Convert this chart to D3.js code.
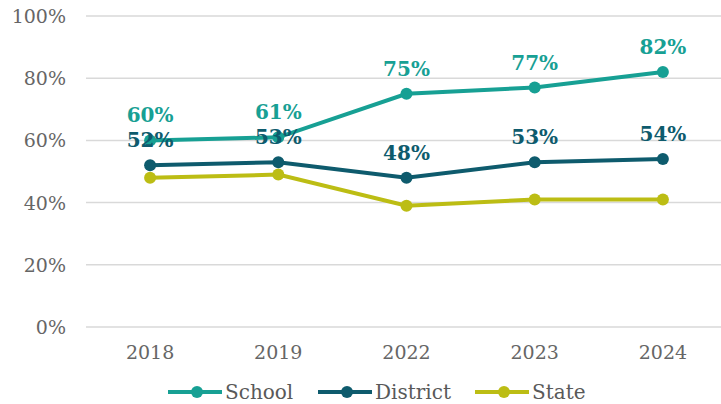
<!DOCTYPE html>
<html>
<head>
<meta charset="utf-8">
<script src="https://cdn.jsdelivr.net/npm/d3@7"></script>
<style>
  body { margin: 0; background: #fff; }
  text { font-family: "DejaVu Serif", Georgia, serif; }
</style>
</head>
<body>
<script>
var years = ["2018", "2019", "2022", "2023", "2024"];
var school = [60, 61, 75, 77, 82];
var district = [52, 53, 48, 53, 54];
var state = [48, 49, 39, 41, 41];
var yTicks = [0, 20, 40, 60, 80, 100];

var series = [
  {name: "School", values: school, color: "#17a094", labels: true},
  {name: "District", values: district, color: "#0e5b6d", labels: true},
  {name: "State", values: state, color: "#bcbd14", labels: false}
];

var width = 721, height = 404;
var svg = d3.select("body").append("svg")
    .attr("width", width).attr("height", height);

// plot area
var x = d3.scaleBand().domain(years).range([86, 727]);
var y = d3.scaleLinear().domain([0, 100]).range([327, 16]);

// grid
svg.append("g").selectAll("line").data(yTicks).join("line")
    .attr("x1", 86).attr("x2", width)
    .attr("y1", d => y(d)).attr("y2", d => y(d))
    .attr("stroke", "#d9d9d9").attr("stroke-width", 1.5);

// y labels
svg.append("g").selectAll("text").data(yTicks).join("text")
    .attr("x", 66).attr("y", d => y(d) + 7)
    .attr("text-anchor", "end")
    .attr("font-size", 19).attr("fill", "#666")
    .text(d => d + "%");

// x labels
svg.append("g").selectAll("text").data(years).join("text")
    .attr("x", d => x(d) + x.bandwidth() / 2).attr("y", 359)
    .attr("text-anchor", "middle")
    .attr("font-size", 19).attr("fill", "#666")
    .text(d => d);

var line = d3.line()
    .x((d, i) => x(years[i]) + x.bandwidth() / 2)
    .y(d => y(d));

series.slice().reverse().forEach(function (s) {
  var g = svg.append("g");
  g.append("path")
      .attr("d", line(s.values))
      .attr("fill", "none").attr("stroke", s.color).attr("stroke-width", 4);
  g.selectAll("circle").data(s.values).join("circle")
      .attr("cx", (d, i) => x(years[i]) + x.bandwidth() / 2)
      .attr("cy", d => y(d))
      .attr("r", 6).attr("fill", s.color);
});

// data labels
series.filter(s => s.labels).forEach(function (s) {
  svg.append("g").selectAll("text").data(s.values).join("text")
      .attr("x", (d, i) => x(years[i]) + x.bandwidth() / 2)
      .attr("y", d => y(d) - 18)
      .attr("text-anchor", "middle")
      .attr("font-size", 20).attr("font-weight", "bold")
      .attr("fill", s.color)
      .text(d => d + "%");
});

// legend
var legX = [168, 318, 475];
var leg = svg.append("g").selectAll("g").data(series).join("g")
    .attr("transform", (d, i) => "translate(" + legX[i] + ",392)");
leg.append("line").attr("x1", 0).attr("x2", 54)
    .attr("stroke", d => d.color).attr("stroke-width", 4);
leg.append("circle").attr("cx", 29).attr("r", 6).attr("fill", d => d.color);
leg.append("text").attr("x", 57).attr("y", 7)
    .attr("font-size", 20).attr("fill", "#595959")
    .text(d => d.name);
</script>
</body>
</html>
